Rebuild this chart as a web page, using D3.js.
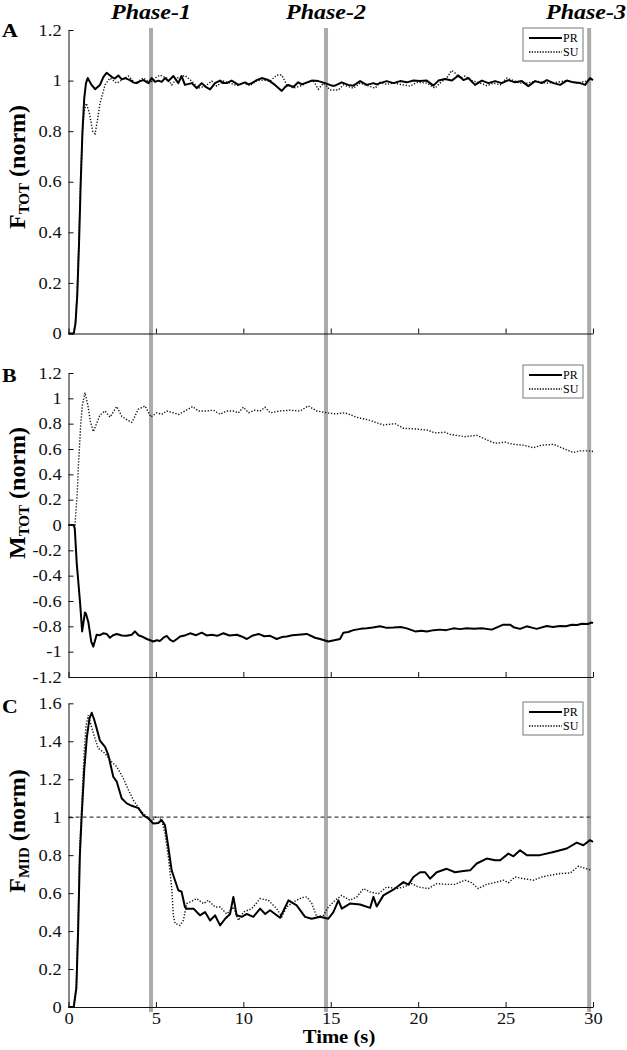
<!DOCTYPE html>
<html>
<head>
<meta charset="utf-8">
<script src="https://cdn.jsdelivr.net/npm/d3@7"></script>
<style>
  body { margin: 0; background: #fff; }
  svg { display: block; font-family: "Liberation Serif", "Times New Roman", serif; }
</style>
</head>
<body>
<svg id="chart" width="627" height="1050"></svg>
<script>
// time (s) and normalised values
const aPR = [[0,0],[0.3,0],[0.4,0.04],[0.5,0.15],[0.6,0.35],[0.7,0.6],[0.8,0.8],[0.9,0.93],[1.0,0.99],[1.1,1.01],[1.3,0.985],[1.52,0.966],[1.8,0.983],[2.0,1.015],[2.18,1.031],[2.47,1.015],[2.65,1.008],[2.85,1.02],[3.05,1.005],[3.23,1.01],[3.52,1.002],[3.7,0.993],[3.9,0.99],[4.1,0.998],[4.28,1.002],[4.57,0.99],[4.76,1.01],[4.95,0.995],[5.14,1.0],[5.33,0.995],[5.52,1.01],[5.71,0.998],[6.0,1.018],[6.28,0.99],[6.47,1.018],[6.66,0.983],[7.05,0.99],[7.33,0.97],[7.62,0.99],[7.85,0.975],[8.1,0.965],[8.38,0.99],[8.67,1.0],[8.85,0.99],[9.05,0.99],[9.33,1.0],[9.72,0.983],[10.1,0.993],[10.3,0.985],[10.48,0.99],[10.77,1.002],[11.05,1.01],[11.43,1.002],[11.81,0.983],[12.2,0.959],[12.4,0.975],[12.57,0.983],[12.86,0.975],[13.14,0.993],[13.35,0.985],[13.53,0.99],[13.91,1.0],[14.29,0.998],[14.67,0.99],[15.06,0.98],[15.24,0.98],[15.63,0.993],[16.0,0.983],[16.29,0.98],[16.68,0.998],[17.06,0.983],[17.44,0.99],[17.62,0.985],[17.82,0.99],[18.2,0.998],[18.59,0.99],[18.97,0.998],[19.35,0.993],[19.73,1.0],[20.11,0.998],[20.49,1.0],[20.87,0.98],[21.16,1.0],[21.54,1.006],[21.92,1.0],[22.3,1.02],[22.59,1.002],[22.87,1.01],[23.25,0.983],[23.64,1.0],[24.02,0.99],[24.4,0.998],[24.78,0.99],[25.16,1.002],[25.54,0.993],[25.93,0.998],[26.3,0.978],[26.69,0.998],[27.07,0.99],[27.36,1.002],[27.74,0.99],[28.12,0.983],[28.5,1.0],[28.88,0.993],[29.26,0.99],[29.55,0.983],[29.83,1.01],[30.0,1.002]];
const aSU = [[0,0],[0.3,0],[0.4,0.05],[0.5,0.17],[0.6,0.38],[0.7,0.62],[0.8,0.8],[0.9,0.88],[1.02,0.91],[1.2,0.87],[1.38,0.8],[1.52,0.79],[1.65,0.84],[1.8,0.91],[2.09,0.983],[2.37,1.01],[2.76,0.99],[3.05,1.002],[3.43,1.018],[3.81,0.99],[4.29,1.01],[4.67,0.99],[4.95,1.01],[5.24,1.022],[5.62,1.01],[5.91,0.983],[6.2,1.01],[6.66,1.02],[7.05,0.998],[7.43,0.97],[7.81,0.978],[8.2,0.998],[8.48,0.978],[8.86,0.998],[9.24,0.99],[9.63,0.98],[10.01,0.99],[10.39,0.98],[10.77,1.0],[11.15,1.002],[11.53,0.998],[11.91,1.022],[12.2,1.022],[12.48,0.983],[12.86,0.97],[13.24,0.978],[13.62,0.99],[14.0,1.0],[14.29,0.966],[14.58,0.99],[14.96,0.963],[15.44,0.963],[15.72,0.983],[16.29,0.97],[16.68,0.99],[17.1,0.98],[17.54,0.97],[17.82,0.993],[18.2,0.985],[18.59,0.99],[19.16,0.983],[19.54,0.978],[19.92,0.993],[20.49,0.99],[20.96,0.97],[21.25,0.99],[21.63,1.01],[21.92,1.04],[22.11,1.03],[22.4,1.01],[22.68,1.018],[23.06,1.0],[23.54,0.99],[23.93,0.98],[24.31,0.99],[24.69,0.983],[25.07,1.01],[25.45,1.0],[25.83,0.99],[26.21,0.99],[26.78,0.998],[27.36,0.99],[27.93,0.993],[28.5,1.0],[29.07,0.99],[29.64,0.998],[29.93,1.006]];

const bPR = [[0,0],[0.3,0],[0.36,-0.03],[0.47,-0.3],[0.66,-0.61],[0.78,-0.84],[0.94,-0.69],[1.0,-0.7],[1.14,-0.77],[1.3,-0.92],[1.42,-0.96],[1.61,-0.866],[1.8,-0.87],[1.99,-0.855],[2.18,-0.86],[2.37,-0.89],[2.55,-0.87],[2.76,-0.86],[3.05,-0.872],[3.33,-0.875],[3.62,-0.866],[3.8,-0.84],[4.0,-0.87],[4.19,-0.88],[4.48,-0.9],[4.85,-0.92],[5.05,-0.91],[5.24,-0.915],[5.43,-0.89],[5.62,-0.876],[5.8,-0.905],[6.0,-0.92],[6.2,-0.9],[6.38,-0.88],[6.7,-0.87],[6.96,-0.855],[7.3,-0.87],[7.62,-0.85],[7.9,-0.872],[8.2,-0.866],[8.5,-0.875],[8.86,-0.855],[9.2,-0.872],[9.63,-0.866],[9.9,-0.88],[10.2,-0.9],[10.5,-0.875],[10.87,-0.86],[11.2,-0.878],[11.53,-0.875],[11.91,-0.9],[12.2,-0.885],[12.48,-0.88],[12.8,-0.87],[13.15,-0.866],[13.63,-0.86],[14.1,-0.89],[14.39,-0.9],[14.86,-0.92],[15.2,-0.91],[15.53,-0.9],[15.72,-0.85],[16.0,-0.845],[16.29,-0.83],[16.7,-0.82],[17.06,-0.816],[17.4,-0.81],[17.82,-0.8],[18.2,-0.812],[18.59,-0.81],[19.0,-0.805],[19.35,-0.816],[19.83,-0.84],[20.2,-0.835],[20.49,-0.84],[20.9,-0.83],[21.25,-0.826],[21.6,-0.83],[22.02,-0.816],[22.4,-0.822],[22.78,-0.816],[23.2,-0.82],[23.64,-0.816],[24.21,-0.826],[24.87,-0.787],[25.25,-0.787],[25.5,-0.81],[25.83,-0.82],[26.21,-0.8],[26.5,-0.81],[26.78,-0.82],[27.36,-0.797],[27.7,-0.805],[28.12,-0.797],[28.45,-0.8],[28.79,-0.787],[29.1,-0.79],[29.36,-0.78],[29.7,-0.782],[29.93,-0.77],[30,-0.775]];
const bSU = [[0,0],[0.37,0],[0.5,0.25],[0.56,0.45],[0.7,0.8],[0.8,0.95],[0.94,1.045],[1.1,0.95],[1.25,0.82],[1.42,0.737],[1.6,0.8],[1.8,0.868],[2.09,0.9],[2.37,0.852],[2.76,0.935],[3.05,0.857],[3.35,0.83],[3.62,0.81],[4.0,0.915],[4.38,0.94],[4.71,0.852],[5.05,0.886],[5.33,0.873],[5.62,0.9],[6.0,0.886],[6.3,0.873],[6.66,0.9],[7.1,0.935],[7.43,0.9],[7.9,0.9],[8.29,0.906],[8.67,0.875],[9.05,0.9],[9.43,0.9],[9.72,0.886],[10.0,0.93],[10.3,0.886],[10.67,0.906],[10.96,0.9],[11.24,0.93],[11.53,0.886],[12.1,0.9],[12.67,0.906],[13.24,0.9],[13.72,0.94],[14.2,0.9],[14.78,0.886],[15.25,0.877],[15.82,0.886],[16.49,0.85],[17.25,0.826],[18.0,0.79],[18.68,0.8],[19.16,0.764],[19.83,0.758],[20.49,0.75],[20.96,0.727],[21.54,0.732],[21.82,0.715],[22.2,0.708],[22.68,0.697],[23.35,0.708],[23.93,0.672],[24.4,0.645],[24.97,0.654],[25.45,0.637],[26.02,0.63],[26.59,0.61],[27.07,0.63],[27.74,0.637],[28.31,0.604],[28.88,0.572],[29.26,0.585],[29.83,0.585],[30,0.58]];

const cPR = [[0,0],[0.3,0],[0.45,0.1],[0.55,0.4],[0.65,0.8],[0.75,1.0],[0.9,1.25],[1.05,1.42],[1.2,1.52],[1.33,1.55],[1.45,1.52],[1.61,1.468],[1.8,1.403],[2.09,1.37],[2.28,1.327],[2.56,1.213],[2.76,1.187],[3.04,1.1],[3.33,1.073],[3.62,1.06],[4.0,1.048],[4.28,1.01],[4.57,0.993],[4.85,0.967],[5.14,0.97],[5.33,0.985],[5.52,0.957],[5.71,0.843],[5.9,0.72],[6.09,0.668],[6.28,0.615],[6.47,0.607],[6.66,0.527],[6.76,0.518],[7.15,0.518],[7.52,0.483],[7.81,0.5],[8.1,0.456],[8.38,0.483],[8.67,0.43],[8.96,0.465],[9.24,0.49],[9.43,0.58],[9.62,0.483],[9.91,0.475],[10.2,0.49],[10.57,0.475],[10.96,0.518],[11.25,0.49],[11.53,0.51],[12.1,0.47],[12.58,0.562],[13.05,0.535],[13.53,0.475],[13.91,0.465],[14.39,0.475],[14.86,0.465],[15.15,0.5],[15.44,0.562],[15.63,0.518],[16.1,0.545],[16.68,0.54],[17.25,0.522],[17.44,0.58],[17.63,0.53],[18.01,0.588],[18.58,0.618],[19.16,0.658],[19.44,0.645],[19.73,0.685],[20.11,0.71],[20.4,0.71],[20.68,0.676],[21.06,0.71],[21.63,0.728],[22.11,0.71],[22.59,0.716],[22.97,0.72],[23.35,0.756],[23.92,0.782],[24.4,0.773],[24.69,0.773],[25.16,0.808],[25.45,0.794],[25.83,0.826],[26.21,0.8],[26.97,0.8],[27.74,0.817],[28.5,0.835],[29.07,0.866],[29.45,0.852],[29.83,0.879],[30,0.87]];
const cSU = [[0,0],[0.3,0],[0.45,0.12],[0.55,0.45],[0.65,0.85],[0.75,1.05],[0.9,1.35],[1.0,1.48],[1.13,1.538],[1.42,1.442],[1.7,1.363],[2.09,1.336],[2.47,1.292],[2.76,1.266],[3.14,1.204],[3.43,1.143],[3.71,1.09],[4.1,1.037],[4.48,1.002],[4.77,0.98],[5.05,1.005],[5.33,0.985],[5.52,0.914],[5.71,0.79],[5.9,0.632],[6.0,0.48],[6.1,0.44],[6.38,0.43],[6.57,0.456],[6.76,0.545],[7.15,0.562],[7.33,0.571],[7.72,0.545],[8.0,0.562],[8.38,0.527],[8.67,0.527],[9.05,0.49],[9.43,0.527],[9.72,0.456],[10.0,0.5],[10.48,0.518],[10.96,0.571],[11.43,0.562],[11.91,0.518],[12.2,0.475],[12.48,0.527],[12.86,0.553],[13.34,0.576],[13.63,0.58],[13.92,0.545],[14.2,0.475],[14.58,0.483],[14.86,0.527],[15.25,0.562],[15.63,0.588],[16.1,0.562],[16.49,0.58],[16.87,0.624],[17.25,0.606],[17.73,0.597],[18.2,0.632],[18.78,0.624],[19.16,0.632],[19.63,0.65],[20.01,0.632],[20.58,0.624],[21.06,0.65],[21.63,0.646],[22.1,0.646],[22.68,0.668],[23.06,0.655],[23.44,0.624],[23.92,0.646],[24.5,0.658],[24.88,0.668],[25.16,0.655],[25.54,0.685],[26.02,0.676],[26.59,0.668],[27.07,0.685],[27.55,0.694],[28.12,0.703],[28.7,0.706],[29.17,0.742],[29.55,0.73],[29.93,0.72]];

const phaseTimes = [4.72, 14.73, 29.78];
const phaseNames = ["Phase-1", "Phase-2", "Phase-3"];
const timeTicks = [0, 5, 10, 15, 20, 25, 30];
const aTicks = [0, 0.2, 0.4, 0.6, 0.8, 1, 1.2];
const bTicks = [-1.2, -1, -0.8, -0.6, -0.4, -0.2, 0, 0.2, 0.4, 0.6, 0.8, 1, 1.2];
const cTicks = [0, 0.2, 0.4, 0.6, 0.8, 1, 1.2, 1.4, 1.6];
const seriesNames = ["PR", "SU"];
const refLevel = 1; // dashed reference in panel C

const W = 627, H = 1050;
const SX = 1.15; // glyphs in the figure look a bit wide
const svg = d3.select("#chart");

const x = d3.scaleLinear().domain([0, 30]).range([68.5, 593]);

const panels = [
  { letter: "A", main: "F", sub: "TOT", ticks: aTicks, domain: [0, 1.2], range: [333.5, 30],
    pr: aPR, su: aSU, letterY: 37, titleY: 167, legendY: 28 },
  { letter: "B", main: "M", sub: "TOT", ticks: bTicks, domain: [-1.2, 1.2], range: [677, 373],
    pr: bPR, su: bSU, letterY: 382, titleY: 493, legendY: 365 },
  { letter: "C", main: "F", sub: "MID", ticks: cTicks, domain: [0, 1.6], range: [1007, 703.3],
    pr: cPR, su: cSU, letterY: 713, titleY: 831, legendY: 702, showTime: true }
];

// phase markers run through all three panels
svg.append("g")
  .selectAll("line")
  .data(phaseTimes)
  .join("line")
    .attr("x1", d => x(d)).attr("x2", d => x(d))
    .attr("y1", 28).attr("y2", 1012)
    .attr("stroke", "#ababab")
    .attr("stroke-width", 4);

const phaseLabels = svg.append("g")
  .selectAll("text")
  .data(phaseTimes)
  .join("text")
    .attr("text-anchor", "middle")
    .attr("font-size", "20px")
    .attr("font-weight", "bold")
    .attr("font-style", "italic")
    .text((d, i) => phaseNames[i]);
phaseLabels.each(function (d) {
  const half = this.getComputedTextLength() * 1.2 / 2;
  const cx = Math.min(x(d), W - half - 1);
  d3.select(this).attr("transform", `translate(${cx},18.5) scale(1.2,1)`);
});

const fmt = d => String(+d.toFixed(1));

panels.forEach(p => {
  const y = d3.scaleLinear().domain(p.domain).range(p.range);
  const g = svg.append("g");

  if (p.showTime) {
    g.append("line")
      .attr("x1", x(0)).attr("x2", x(30))
      .attr("y1", y(refLevel)).attr("y2", y(refLevel))
      .attr("stroke", "#444")
      .attr("stroke-width", 1.2)
      .attr("stroke-dasharray", "4,3");
  }

  const line = d3.line().x(d => x(d[0])).y(d => y(d[1]));

  g.append("path")
    .attr("d", line(p.su))
    .attr("fill", "none")
    .attr("stroke", "#111")
    .attr("stroke-width", 1.4)
    .attr("stroke-dasharray", "1.3,1.7");

  g.append("path")
    .attr("d", line(p.pr))
    .attr("fill", "none")
    .attr("stroke", "#000")
    .attr("stroke-width", 2)
    .attr("stroke-linejoin", "round");

  // axes
  const yAxis = g.append("g")
    .attr("transform", `translate(${x(0)},0)`)
    .call(d3.axisLeft(y).tickValues(p.ticks).tickSize(-5).tickSizeOuter(0).tickPadding(6).tickFormat(fmt));
  yAxis.selectAll("text")
    .attr("font-size", "16px")
    .attr("font-family", "Liberation Serif, serif")
    .attr("fill", "#111")
    .attr("transform", `scale(${SX},1)`);

  const xAxis = g.append("g")
    .attr("transform", `translate(0,${p.range[0]})`)
    .call(d3.axisBottom(x).tickValues(timeTicks).tickSize(-5).tickSizeOuter(0).tickPadding(6)
      .tickFormat(p.showTime ? d3.format("d") : ""));
  xAxis.selectAll("text")
    .attr("font-size", "16px")
    .attr("font-family", "Liberation Serif, serif")
    .attr("fill", "#111")
    .attr("transform", `scale(${SX},1)`);
  // keep the labels centred on their ticks after the stretch
  xAxis.selectAll(".tick text").attr("x", 0);

  g.selectAll(".domain, .tick line").attr("stroke", "#111").attr("stroke-width", 1);

  // panel letter
  g.append("text")
    .attr("transform", `translate(2,${p.letterY}) scale(${SX},1)`)
    .attr("font-size", "19px")
    .attr("font-weight", "bold")
    .text(p.letter);

  // y title with subscript
  const title = g.append("text")
    .attr("transform", `translate(25,${p.titleY}) rotate(-90)`)
    .attr("text-anchor", "middle")
    .attr("font-size", "24px")
    .attr("font-weight", "bold");
  title.append("tspan").text(p.main);
  title.append("tspan").attr("font-size", "15px").attr("dy", 4).text(p.sub);
  title.append("tspan").attr("dy", -4).text(" (norm)");

  // legend
  const lg = g.append("g").attr("transform", `translate(523,${p.legendY})`);
  lg.append("rect")
    .attr("width", 60).attr("height", 33)
    .attr("fill", "#fff")
    .attr("stroke", "#777")
    .attr("stroke-width", 1);
  lg.selectAll("line")
    .data(seriesNames)
    .join("line")
      .attr("x1", 6).attr("x2", 39)
      .attr("y1", (d, i) => 10 + i * 14).attr("y2", (d, i) => 10 + i * 14)
      .attr("stroke", "#000")
      .attr("stroke-width", (d, i) => i === 0 ? 2 : 1.3)
      .attr("stroke-dasharray", (d, i) => i === 0 ? null : "1.3,1.4");
  lg.selectAll("text")
    .data(seriesNames)
    .join("text")
      .attr("x", 40)
      .attr("y", (d, i) => 14 + i * 14)
      .attr("font-size", "12px")
      .text(d => d);

  if (p.showTime) {
    g.append("text")
      .attr("transform", `translate(339,1043) scale(1.15,1)`)
      .attr("text-anchor", "middle")
      .attr("font-size", "18px")
      .attr("font-weight", "bold")
      .text("Time (s)");
  }
});
</script>
</body>
</html>
